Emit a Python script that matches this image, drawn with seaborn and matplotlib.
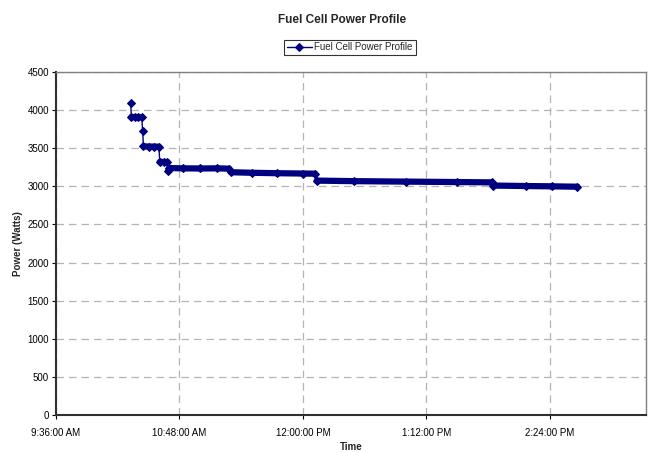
import pandas as pd
import numpy as np
import matplotlib
matplotlib.use("Agg")
import matplotlib.pyplot as plt
import matplotlib.dates as mdates
from matplotlib.ticker import FuncFormatter
import seaborn as sns

# Readings from the fuel cell log (time of day, watts)
times = [
    "10:19:30", "10:20:00", "10:22:00", "10:24:00", "10:26:00",
    "10:26:30", "10:27:00", "10:30:00", "10:33:00", "10:36:00",
    "10:36:30", "10:39:00", "10:41:00", "10:41:30",
    "10:42:00", "10:50:00", "11:00:00", "11:10:00", "11:17:00",
    "11:18:00", "11:30:00", "11:45:00", "12:00:00", "12:07:00",
    "12:08:00", "12:30:00", "13:00:00", "13:30:00", "13:50:00",
    "13:51:00", "14:10:00", "14:25:00", "14:40:00",
]
power = [
    4095, 3910, 3908, 3906, 3905,
    3730, 3525, 3522, 3521, 3520,
    3320, 3319, 3318, 3205,
    3240, 3236, 3234, 3236, 3232,
    3185, 3178, 3172, 3168, 3166,
    3075, 3068, 3062, 3056, 3052,
    3010, 3004, 3000, 2995,
]
series_name = "Fuel Cell Power Profile"

df = pd.DataFrame({
    "time": pd.to_datetime(["2000-01-01 " + t for t in times]),
    "power": power,
})

sns.set_style("white")
plt.rcParams["font.family"] = ["Liberation Sans", "DejaVu Sans"]

fig = plt.figure(figsize=(6.49, 4.53), dpi=100)
ax = fig.add_axes([56 / 649, 38 / 453, 590 / 649, 343 / 453])

navy = "#000080"

# dense logging makes the flat stretches look like a thick band
run = [0]
for i in range(1, len(df)):
    if abs(df["power"][i] - df["power"][i - 1]) < 50:
        run.append(i)
    else:
        if len(run) > 1:
            seg = df.iloc[run]
            ax.plot(seg["time"], seg["power"], color=navy, lw=4.5,
                    solid_capstyle="round", zorder=3)
        run = [i]
if len(run) > 1:
    seg = df.iloc[run]
    ax.plot(seg["time"], seg["power"], color=navy, lw=4.5,
            solid_capstyle="round", zorder=3)

sns.lineplot(data=df, x="time", y="power", ax=ax, color=navy, lw=1,
             marker="D", markersize=4, markeredgecolor=navy,
             label=series_name, zorder=4)

ax.set_xlim(pd.Timestamp("2000-01-01 09:36:00"), pd.Timestamp("2000-01-01 15:20:00"))
ax.set_ylim(0, 4500)
ax.set_yticks(np.arange(0, 4501, 500))
ticks = pd.date_range("2000-01-01 09:36:00", periods=5, freq="72min")
ax.set_xticks(ticks)
ax.xaxis.set_major_formatter(
    FuncFormatter(lambda v, p: mdates.num2date(v).strftime("%I:%M:%S %p").lstrip("0")))

ax.grid(True, color="#b4b4b4", linestyle=(0, (6, 4)), lw=0.9)
for s in ["top", "right"]:
    ax.spines[s].set_color("#808080")
    ax.spines[s].set_linewidth(1)
for s in ["left", "bottom"]:
    ax.spines[s].set_color("#303030")
    ax.spines[s].set_linewidth(1.5)
ax.tick_params(axis="both", which="major", direction="out", length=3,
               width=0.8, labelsize=7, colors="black")
ax.tick_params(axis="y", pad=2)
ax.tick_params(axis="x", pad=6)
ax.tick_params(left=True, bottom=True)

ax.set_xlabel("Time", fontsize=7, fontweight="bold", labelpad=3)
ax.set_ylabel("Power (Watts)", fontsize=7, fontweight="bold", labelpad=3)
fig.suptitle("Fuel Cell Power Profile", fontsize=8.5, fontweight="bold", x=0.527, y=0.97)

ax.legend(loc="center", bbox_to_anchor=(350 / 649, 1 - 47.5 / 453),
          bbox_transform=fig.transFigure, frameon=True, fancybox=False,
          edgecolor="black", fontsize=7, handlelength=2.5, borderpad=0.3,
          handletextpad=0.3)
leg = ax.get_legend()
leg.get_frame().set_linewidth(0.8)

fig.savefig("out.png", dpi=100)
